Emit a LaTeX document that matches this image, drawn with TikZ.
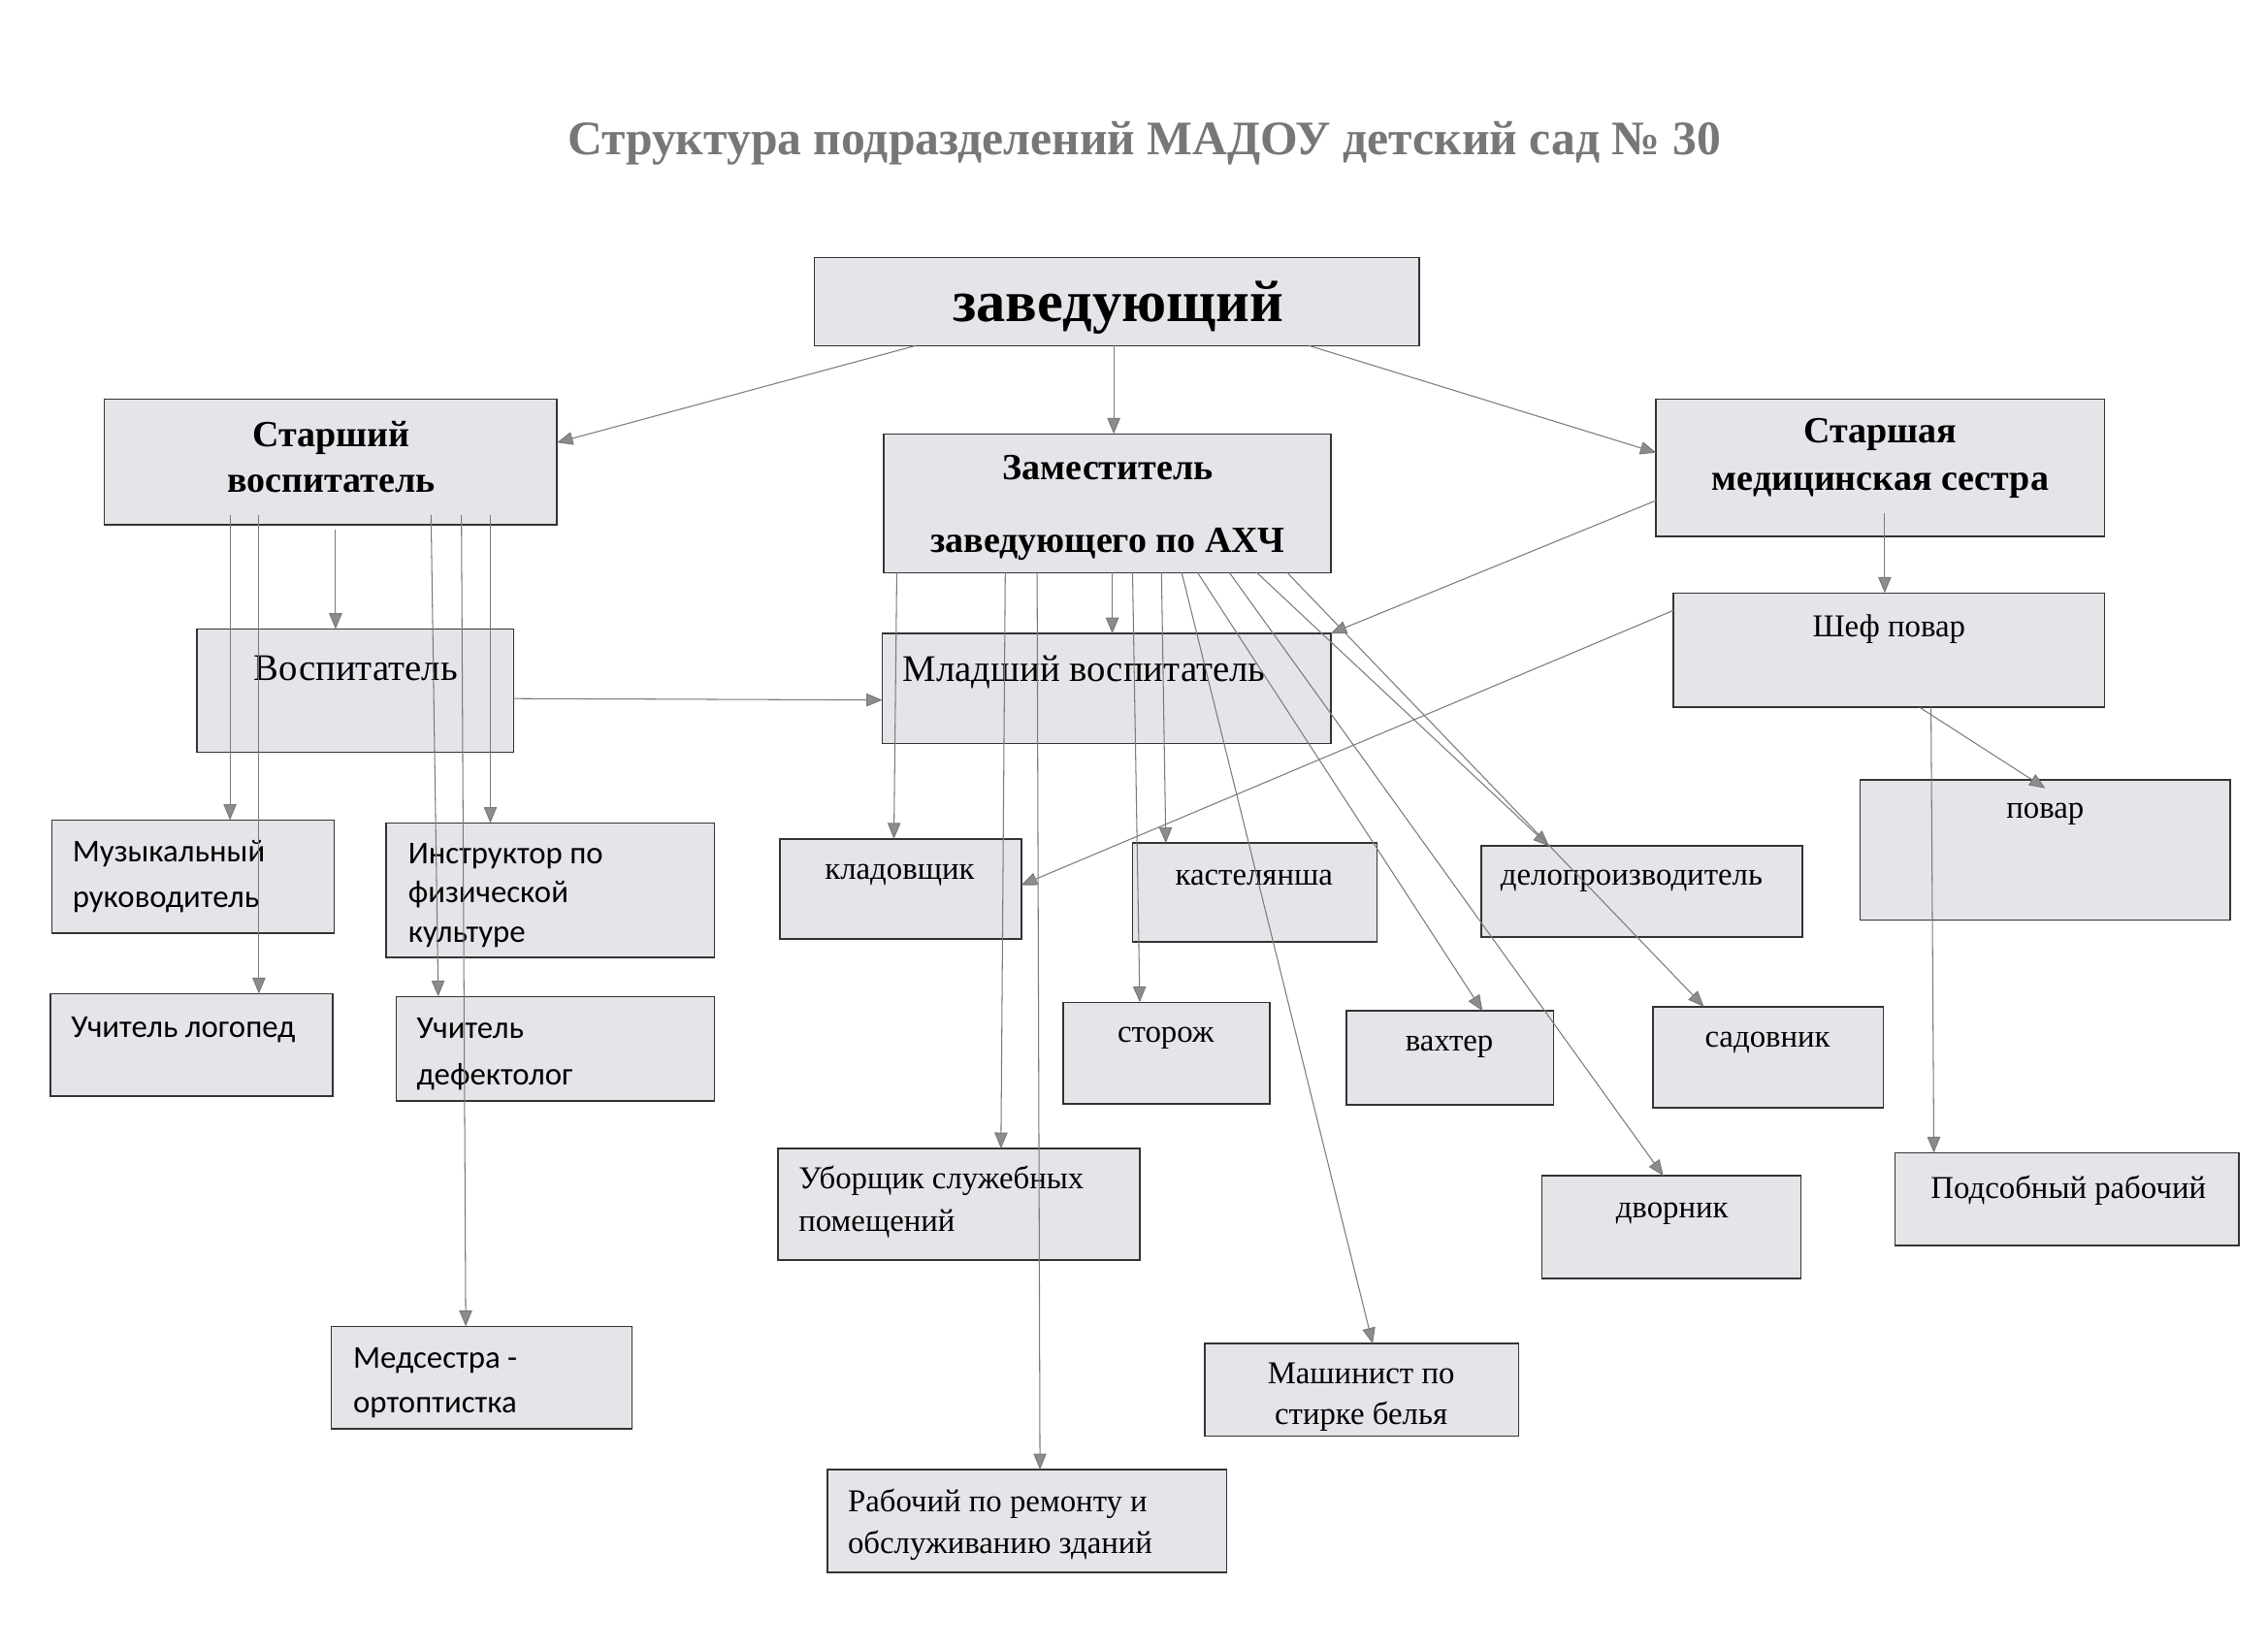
\documentclass[tikz,border=0pt]{standalone}
\usepackage{fontspec}
\setmainfont{Liberation Serif}
\newfontfamily\calfont{Carlito}
\usetikzlibrary{arrows.meta}
\definecolor{boxfill}{HTML}{E3E5E9}
\definecolor{boxline}{HTML}{333333}
\definecolor{arrline}{HTML}{7A7A7A}
\definecolor{arrhead}{HTML}{8C8C8C}
\definecolor{titlecol}{HTML}{777777}
\tikzset{
  box/.style={draw=boxline, line width=1.1pt, fill=boxfill, inner sep=0pt, outer sep=0pt, anchor=north west},
  arr/.style={draw=arrline, line width=0.7pt, -{Triangle[length=11pt,width=9pt,fill=arrhead]}},
  bt/.style={font=\fontsize{25.5}{31}\selectfont\bfseries, align=center, inner sep=0pt},
  rt/.style={font=\fontsize{22}{28}\selectfont, align=center, inner sep=0pt, yshift=-3pt},
  rtb/.style={font=\fontsize{26}{30}\selectfont, inner sep=0pt, yshift=-2pt},
  st/.style={font=\calfont\fontsize{22}{31}\selectfont, align=left, inner sep=0pt, anchor=west, yshift=-2pt},
}
\newcommand{\bx}[5]{\node[box, minimum width={(#4-#2)*1pt}, minimum height={(#5-#3)*1pt}] (#1) at (#2,#3) {};}
\begin{document}
\begin{tikzpicture}[x=1pt,y=-1pt]
\useasboundingbox (0,0) rectangle (1568,1140);
\fill[white] (0,0) rectangle (1568,1140);
% title
\node[inner sep=0pt, text=titlecol, font=\fontsize{33.3}{38}\selectfont\bfseries] (title) at (791,99) {Структура подразделений МАДОУ детский сад № 30};
% boxes
\bx{zav}{563}{178}{981}{239}
\bx{sv}{72}{276}{385}{363}
\bx{zam}{611}{300}{920}{396}
\bx{sms}{1145}{276}{1455}{371}
\bx{vos}{136}{435}{355}{520}
\bx{mv}{610}{438}{920}{514}
\bx{shef}{1157}{410}{1455}{489}
\bx{povar}{1286}{539}{1542}{636}
\bx{muz}{36}{567}{231}{645}
\bx{instr}{267}{569}{494}{662}
\bx{logo}{35}{687}{230}{758}
\bx{defe}{274}{689}{494}{761}
\bx{meds}{229}{917}{437}{988}
\bx{klad}{539}{580}{706}{649}
\bx{kast}{783}{583}{952}{651}
\bx{delo}{1024}{585}{1246}{648}
\bx{stor}{735}{693}{878}{763}
\bx{vaht}{931}{699}{1074}{764}
\bx{sad}{1143}{696}{1302}{766}
\bx{ubor}{538}{794}{788}{871}
\bx{dvor}{1066}{813}{1245}{884}
\bx{pods}{1310}{797}{1548}{861}
\bx{mash}{833}{929}{1050}{993}
\bx{rab}{572}{1016}{848}{1087}
% texts
\node[inner sep=0pt, font=\fontsize{40.5}{44}\selectfont\bfseries] (tzav) at (773,213) {заведующий};
\node[bt] (tsv) at (229,316) {Старший\\воспитатель};
\node[bt, font=\fontsize{25.5}{50}\selectfont\bfseries] (tzam) at (766,351) {Заместитель\\заведующего по АХЧ};
\node[bt, font=\fontsize{25.5}{33}\selectfont\bfseries] (tsms) at (1300,317) {Старшая\\медицинская сестра};
\node[rtb] (tvos) at (246,460) {Воспитатель};
\node[rtb, anchor=west] (tmv) at (624,463) {Младший воспитатель};
\node[rt] (tshef) at (1306,432) {Шеф повар};
\node[rt] (tpovar) at (1414,560) {повар};
\node[st] (tmuz) at (50,604) {Музыкальный\\руководитель};
\node[st, font=\calfont\fontsize{22}{27}\selectfont] (tinstr) at (282,617) {Инструктор по\\физической\\культуре};
\node[st] (tlogo) at (49,710) {Учитель логопед};
\node[st, font=\calfont\fontsize{22}{32}\selectfont] (tdefe) at (288,727) {Учитель\\дефектолог};
\node[st] (tmeds) at (244,954) {Медсестра -\\ортоптистка};
\node[rt] (tklad) at (622,602) {кладовщик};
\node[rt] (tkast) at (867,604) {кастелянша};
\node[rt] (tdelo) at (1128,606) {делопроизводитель};
\node[rt] (tstor) at (806,715) {сторож};
\node[rt] (tvaht) at (1002,721) {вахтер};
\node[rt] (tsad) at (1222,718) {садовник};
\node[rt, align=left, anchor=west, font=\fontsize{22}{30}\selectfont] (tubor) at (552,828) {Уборщик служебных\\помещений};
\node[rt] (tdvor) at (1156,836) {дворник};
\node[rt] (tpods) at (1430,820) {Подсобный рабочий};
\begin{scope}
\clip (mash.north west) rectangle (mash.south east);
\node[rt, font=\fontsize{22}{28}\selectfont] (tmash) at (941,963) {Машинист по\\стирке белья};
\end{scope}
\node[rt, align=left, anchor=west, font=\fontsize{22}{29}\selectfont] (trab) at (586,1051) {Рабочий по ремонту и\\обслуживанию зданий};
% connectors from заведующий
\draw[arr] (zav.south -| 633,0) -- (sv.east |- 0,306);
\draw[arr] (zav.south -| 770,0) -- (zam.north -| 770,0);
\draw[arr] (zav.south -| 905,0) -- (sms.west |- 0,313);
% from Старший воспитатель
\draw[arr] (232,366) -- (vos.north -| 232,0);
\coordinate (svb) at (0,356);
\draw[arr] (svb -| 159,0) -- (muz.north -| 159,0);
\draw[arr] (svb -| 179,0) -- (logo.north -| 179,0);
\draw[arr] (svb -| 298,0) -- (defe.north -| 303,0);
\draw[arr] (svb -| 319,0) -- (meds.north -| 322,0);
\draw[arr] (svb -| 339,0) -- (instr.north -| 339,0);
\draw[arr] (vos.east |- 0,483) -- (mv.west |- 0,484);
% from Заместитель
\draw[arr] (zam.south -| 620,0) -- (klad.north -| 618,0);
\draw[arr] (zam.south -| 695,0) -- (ubor.north -| 692,0);
\draw[arr] (zam.south -| 717,0) -- (rab.north -| 719,0);
\draw[arr] (zam.south -| 769,0) -- (mv.north -| 769,0);
\draw[arr] (zam.south -| 783,0) -- (stor.north -| 788,0);
\draw[arr] (zam.south -| 803,0) -- (kast.north -| 806,0);
\draw[arr] (zam.south -| 817,0) -- (mash.north -| 949,0);
\draw[arr] (zam.south -| 828,0) -- (vaht.north -| 1025,0);
\draw[arr] (zam.south -| 850,0) -- (dvor.north -| 1150,0);
\draw[arr] (zam.south -| 869,0) -- (delo.north -| 1071,0);
\draw[arr] (zam.south -| 890,0) -- (sad.north -| 1178,0);
% from Старшая медицинская сестра
\draw[arr] (sms.west |- 0,346) -- (mv.north east);
\draw[arr] (1303,355) -- (shef.north -| 1303,0);
% from Шеф повар
\draw[arr] (shef.west |- 0,422) -- (klad.east |- 0,612);
\draw[arr] (shef.south -| 1327,0) -- (1414,545);
\draw[arr] (shef.south -| 1335,0) -- (pods.north -| 1337,0);
\end{tikzpicture}
\end{document}
